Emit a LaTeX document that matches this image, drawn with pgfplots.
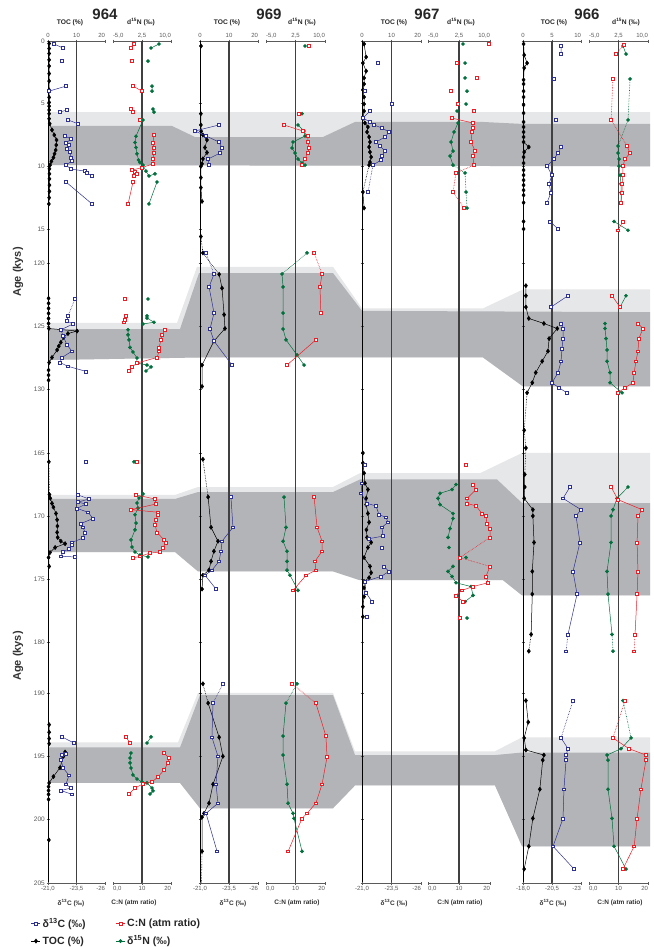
\documentclass[border=0pt]{standalone}
\usepackage{pgfplots}
\pgfplotsset{compat=1.18}
\usepackage{fontspec}
\setmainfont{Liberation Sans}
\definecolor{cblue}{HTML}{2E3192}
\definecolor{cred}{HTML}{EE1C25}
\definecolor{cgreen}{HTML}{00703C}
\definecolor{lgray}{HTML}{E6E7E8}
\definecolor{dgray}{HTML}{B3B4B7}
\definecolor{tgray}{HTML}{5A5A5A}
\pgfplotsset{
  table/x index=1, table/y index=0,
  agey/.style={
    y coord trafo/.code={\pgfmathparse{ifthenelse(##1<60,41+12.533*##1,ifthenelse(##1<150,263+12.6*(##1-120),ifthenelse(##1<180,453+12.6*(##1-165),ifthenelse(##1<190,642+5.1*(##1-180),693+12.67*(##1-190)))))}},
    ymin=0, ymax=205, y dir=reverse, scale only axis, height=842pt,
    anchor=north west, clip=false, empty line=jump},
  pan/.style={agey,
    axis line style={draw=tgray, line width=1pt},
    tick style={draw=tgray, line width=0.6pt},
    major tick length=3pt, tick align=center,
    ticklabel style={font=\fontsize{6}{7}\selectfont, text=tgray, inner sep=1.5pt}},
  topL/.style={pan, axis x line*=top, axis y line*=left, xmin=0, xmax=20,
    xtick={0,10,20}, xticklabels={0,10,{\makebox[0pt][r]{20}}},
    ytick={0,5,10,15,120,125,130,165,170,175,180,190,195,200,205}, yticklabels={},
    y axis line style={draw=black, line width=0.6pt}},
  botL/.style={pan, axis x line*=bottom, axis y line=none, xmin=-26, xmax=-21, x dir=reverse,
    xtick={-26,-23.5,-21}, xticklabels={{\makebox[0pt][r]{-26}},{-23,5},{-21,0}}},
  topR/.style={pan, axis x line*=top, axis y line=none, xmin=-5, xmax=10,
    xtick={-5,2.5,10}, xticklabels={{\makebox[0pt][l]{-5,0}},{2,5},{\makebox[0pt][r]{10,0}}}},
  botR/.style={pan, axis x line*=bottom, axis y line=none, xmin=0, xmax=20,
    xtick={0,10,20}, xticklabels={{\makebox[0pt][l]{0,0}},{10},{\makebox[0pt][r]{20}}}},
  tocp/.style={black, line width=0.5pt, mark=diamond*, mark size=2.1pt, mark options={solid}},
  d13p/.style={cblue, line width=0.5pt, mark=square*, mark size=1.4pt, mark options={solid, fill=white}},
  cnp/.style={cred, line width=0.5pt, mark=square*, mark size=1.4pt, mark options={solid, fill=white}},
  d15p/.style={cgreen, line width=0.5pt, mark=*, mark size=1.6pt, mark options={solid}},
  dotl/.style={densely dotted, line width=0.6pt},
}
\begin{document}
\begin{tikzpicture}
\useasboundingbox (0,0) rectangle (653pt,-947pt);

% ---------------- bands ----------------
\begin{axis}[agey, at={(0pt,-41pt)}, width=653pt, xmin=0, xmax=653, hide axis]
\addplot[fill=lgray, draw=none] coordinates {(48,5.67) (650,5.67) (650,10.0) (48,9.9)} -- cycle;
\addplot[fill=dgray, draw=none] coordinates {(48,6.78) (172,6.78) (195,7.66) (323,7.66) (355,6.46) (483,6.46) (523,6.62) (650,6.62) (650,10.0) (48,9.9)} -- cycle;
\addplot[fill=lgray, draw=none] coordinates {(48,124.76) (177,124.76) (197,120.3) (333,120.3) (362,123.6) (483,123.6) (523,122.1) (650,122.1) (650,129.8) (523,129.8) (483,127.5) (200,127.5) (48,127.7)} -- cycle;
\addplot[fill=dgray, draw=none] coordinates {(48,125.24) (180,125.24) (199,120.8) (333,120.8) (362,123.8) (650,123.9) (650,129.8) (523,129.8) (483,127.5) (200,127.5) (48,127.7)} -- cycle;
\addplot[fill=lgray, draw=none] coordinates {(48,168.33) (175,168.33) (198,167.7) (333,167.7) (360,166.6) (480,166.6) (522,165.0) (650,165.0) (650,176.3) (522,176.3) (503,175.1) (360,175.1) (333,174.4) (198,174.4) (175,172.86) (48,172.86)} -- cycle;
\addplot[fill=dgray, draw=none] coordinates {(48,168.65) (175,168.65) (198,168.1) (333,168.1) (360,167.1) (497,167.1) (522,168.97) (650,168.97) (650,176.3) (522,176.3) (503,175.1) (360,175.1) (333,174.4) (198,174.4) (175,172.86) (48,172.86)} -- cycle;
\addplot[fill=lgray, draw=none] coordinates {(48,193.9) (178,193.9) (198,190.0) (333,190.0) (355,194.6) (495,194.6) (522,193.5) (650,193.5) (650,202.1) (522,202.1) (495,197.3) (355,197.3) (333,199.1) (200,199.1) (180,197.1) (48,197.1)} -- cycle;
\addplot[fill=dgray, draw=none] coordinates {(48,194.3) (180,194.3) (200,190.16) (333,190.16) (355,194.9) (495,194.9) (522,194.7) (650,194.7) (650,202.1) (522,202.1) (495,197.3) (355,197.3) (333,199.1) (200,199.1) (180,197.1) (48,197.1)} -- cycle;
\end{axis}

% ================= 964 =================
\begin{axis}[topL, at={(48pt,-41pt)}, width=57pt,
  yticklabels={0,5,10,15,120,125,130,165,170,175,180,190,195,200,205},
  yticklabel style={font=\fontsize{6.5}{7}\selectfont, text=tgray}]
\draw[black!75, line width=1.1pt] (rel axis cs:0.5,0) -- (rel axis cs:0.5,1);
\draw[black, line width=0.6pt] (rel axis cs:0,1) -- ++(0pt,-18pt);
\addplot[tocp] table {
0.2 0.4
0.6 0.4
1.0 0.4
1.5 0.4
2.0 0.4
2.6 0.4
3.2 0.4
3.9 0.4
4.5 0.4
4.9 0.4
5.2 0.4
5.5 0.4
5.8 0.4
6.2 0.4
6.6 0.6
7.1 1.4
7.5 2.2
7.9 3.0
8.3 2.9
8.7 2.7
9.0 2.3
9.3 1.9
9.6 1.2
9.9 0.7
10.2 0.5
10.6 0.5
11.0 0.5
11.5 0.5
12.0 0.5
12.5 0.4
13.0 0.3

122.8 0.2
123.2 0.2
123.6 0.2
124.0 0.2
124.4 0.2
124.8 0.2
125.2 0.3
125.4 10.2
125.6 7.0
125.9 5.5
126.3 4.5
126.6 3.8
126.9 3.2
127.5 1.4
127.9 0.4
128.5 0.2
128.9 0.2
129.3 0.2

165.7 0.3

168.3 0.5
168.6 0.8
169.0 1.4
169.3 1.9
169.8 2.8
170.3 3.2
170.8 3.3
171.3 3.2
171.7 3.4
172.0 4.5
172.2 6.0
172.5 2.5
172.9 0.7
173.3 0.2
174.0 0.4

192.5 0.4
193.1 0.4
193.6 0.4
194.0 0.4

194.66 6.0
195.0 5.4
195.9 4.2
196.6 1.9
197.1 0.4
197.4 0.2
197.7 0.2
198.0 0.2
198.4 0.2

201.6 0.3
};
\addplot[black, dotl] table {
165.7 0.3
168.3 0.5
};
\end{axis}
\begin{axis}[botL, at={(48pt,-41pt)}, width=57pt]
\addplot[d13p] table {
0.24 -21.53
0.56 -22.32

1.6 -22.23

3.6 -22.58
4.0 -21.09

5.5 -22.67
5.67 -22.05

6.3 -22.75
6.6 -23.63

7.58 -22.49
7.82 -23.02
8.14 -22.58
8.30 -22.84
8.62 -22.67
8.86 -22.93
9.34 -23.02
9.58 -23.10
9.90 -22.58
10.22 -23.02
10.38 -24.25
10.53 -24.42
10.77 -24.86

11.25 -22.58
13.0 -24.86

122.86 -23.37

124.2 -22.75
124.6 -22.67
124.84 -23.19
125.3 -22.14
125.8 -22.32
126.5 -22.67
127.0 -23.10
127.5 -22.23
127.9 -22.05
128.2 -22.75
128.6 -24.33

165.7 -24.33

168.33 -23.63
168.65 -24.60
168.9 -23.63
169.05 -24.33
169.4 -23.54
169.7 -24.51
170.2 -24.95
170.6 -23.89
170.9 -24.07
171.3 -24.25
171.75 -24.07
172.1 -23.10
172.3 -23.10
172.6 -22.84
172.86 -22.32
173.2 -22.14
173.25 -23.37

193.47 -22.23
193.95 -23.28

194.8 -22.58
194.9 -22.23
195.3 -22.14
195.9 -22.32
196.5 -22.84
197.2 -22.58
197.5 -23.02
197.7 -22.14
198.0 -23.10
};
\addplot[cblue, dotl] table {
122.86 -23.37
124.2 -22.75
};
\end{axis}
\begin{axis}[topR, at={(113pt,-41pt)}, width=58pt]
\draw[black!75, line width=1.1pt] (rel axis cs:0.5,0) -- (rel axis cs:0.5,1);
\addplot[d15p] table {
0.24 6.9
0.56 4.83

1.6 4.05

3.6 5.09
4.0 5.09

5.43 5.34
5.67 5.6

6.3 2.76
7.6 0.95
8.1 0.69
8.5 0.95
9.0 1.2
9.5 1.6
9.7 1.98
9.9 2.76
10.38 3.53
10.77 4.3
10.6 5.86

11.25 6.38
13.0 4.3

122.86 4.05

124.2 3.79
124.37 3.79
124.7 5.6
124.84 2.76

125.3 -1.12
125.7 -1.12
126.1 -0.86
126.7 -0.6
127.06 0.17
127.54 1.2
127.94 1.2
128.1 3.79
128.25 4.83
128.57 3.53

165.7 0.43

168.25 2.76
168.57 1.72
168.97 1.2
169.37 1.47
169.9 0.69
170.56 0.95
171.1 0.69
171.9 -0.35
172.46 -0.09
172.86 0.69
173.1 1.98
173.25 4.05

193.47 4.83
193.95 3.79

194.74 -0.35
195.13 -0.6
195.52 -0.6
195.92 -0.35
196.47 0.17
196.79 1.2
197.02 2.5
197.1 3.79
197.5 5.09
197.73 5.34
197.97 4.57
};
\end{axis}
\begin{axis}[botR, at={(113pt,-41pt)}, width=58pt]
\addplot[cnp] table {
0.24 7.24
0.56 6.21

1.6 6.55

3.6 6.9
4.0 10.0

5.43 6.2
5.67 6.9

6.3 9.3

7.5 14.1
8.1 13.8
8.5 14.1
8.9 14.1
9.4 13.8
9.8 13.8
10.1 10.0
10.3 6.55
10.45 7.6
10.6 8.3
10.77 7.2

11.25 6.9
13.0 5.2

122.86 4.14

124.2 4.48
124.5 4.14
124.7 3.8

125.3 17.9
125.7 16.9
126.1 16.55
126.7 15.9
127.0 15.9
127.5 15.2
127.94 8.3
128.25 6.55
128.57 5.5

165.7 8.3

168.33 7.93
168.65 14.48
169.05 14.83
169.5 6.2
169.7 15.5
169.9 15.5
170.3 14.83
170.7 14.48
171.3 15.17
171.9 17.6
172.1 18.3
172.5 17.2
172.86 16.2
172.94 12.8
173.2 9.3
173.33 6.9

193.47 4.48
193.95 5.86

194.74 17.6
195.13 19.3
195.52 19.0
196.08 17.6
196.63 15.5
197.02 13.45
197.18 10.3
197.5 7.6
197.97 5.5
};
\end{axis}

% ================= 969 =================
\begin{axis}[topL, at={(200pt,-41pt)}, width=58pt]
\draw[black!75, line width=1.1pt] (rel axis cs:0.5,0) -- (rel axis cs:0.5,1);
\addplot[tocp] table {
0.4 0.34

5.8 0.3
6.7 0.3
7.2 0.4
7.5 1.0
7.9 2.4
8.5 1.7
8.9 2.4
9.4 1.0
9.8 0.7
10.0 0.3
10.9 0.3
11.7 0.3
12.8 0.7

117.9 0.3

119.2 1.0

120.9 6.6
122.0 7.6
124.1 8.3
125.2 8.6
126.2 4.8
128.1 0.7
129.8 0.7

165.5 1.0

168.5 2.8
170.9 3.8
172.0 6.2
172.8 4.8
173.6 3.8
174.3 3.1
174.7 1.0
175.8 0.7

188.2 1.0

190.8 2.8
193.5 6.6
195.0 7.9
197.2 4.5
198.7 3.1
199.5 1.4
199.8 0.7
202.5 0.7
};
\addplot[black, dotl] table {
117.9 0.3
119.2 1.0
120.9 6.6

165.5 1.0
168.5 2.8

188.2 1.0
190.8 2.8

202.5 0.7
205 0.5
};
\end{axis}
\begin{axis}[botL, at={(200pt,-41pt)}, width=58pt]
\addplot[d13p] table {
6.7 -22.64
7.18 -20.57
7.58 -21.52
8.06 -22.64
8.54 -22.90
8.94 -22.72
9.42 -21.69
9.9 -21.78

119.2 -21.52

120.87 -22.21
121.9 -21.78
123.97 -22.21
125.24 -21.86
126.2 -22.21
128.1 -23.76

168.5 -23.67
170.9 -23.84
172.0 -22.90
172.8 -22.81
173.6 -22.64
174.3 -22.03
174.7 -21.43
175.8 -22.38

188.2 -22.98

190.8 -22.12
193.5 -22.03
195.0 -22.55
197.2 -22.38
198.7 -22.55
199.5 -21.52
202.5 -22.47
};
\addplot[cblue, dotl] table {
119.2 -21.52
120.87 -22.21

188.2 -22.98
190.8 -22.12
};
\end{axis}
\begin{axis}[topR, at={(266pt,-41pt)}, width=59pt]
\draw[black!75, line width=1.1pt] (rel axis cs:0.5,0) -- (rel axis cs:0.5,1);
\addplot[d15p] table {
0.4 4.92

5.8 4.16

6.7 3.14
7.18 4.67
7.58 4.92
8.06 1.87
8.54 1.62
8.94 2.38
9.42 3.14
9.74 4.16
9.9 4.92

119.2 5.43

120.87 -0.93
121.9 -0.67
123.97 -0.67
125.24 -0.67
126.1 0.09
127.3 2.89
128.1 4.67

168.5 -0.42
170.9 0.09
172.0 -0.67
172.8 0.34
173.6 0.34
174.3 0.34
174.7 1.1
175.9 3.14

188.2 2.89

190.8 0.09
193.4 -0.67
194.9 -0.67
197.2 0.34
198.7 0.6
199.5 1.87
199.9 2.12
202.5 4.16
};
\addplot[cgreen, dotl] table {
119.2 5.43
120.87 -0.93

188.2 2.89
190.8 0.09
};
\end{axis}
\begin{axis}[botR, at={(266pt,-41pt)}, width=59pt]
\addplot[cnp] table {
0.4 14.6

5.8 11.2

6.7 6.1
7.18 12.5
7.58 14.2
8.06 14.2
8.54 14.6
8.94 14.2
9.42 13.2
9.9 12.2

119.2 16.3

120.87 19.0
121.9 18.3
123.97 18.6

126.1 16.9
128.1 7.1

168.5 16.3
170.9 17.3
172.0 19.0
172.8 19.0
173.6 16.6
174.3 16.9
174.7 13.6
175.9 9.2

188.2 8.8

190.8 16.9
193.4 20.3
195.05 20.7
197.2 19.0
198.7 16.9
199.5 13.9
199.9 12.2
202.5 7.5
};
\addplot[cred, dotl] table {
119.2 16.3
120.87 19.0

188.2 8.8
190.8 16.9
};
\end{axis}

% ================= 967 =================
\begin{axis}[topL, at={(362pt,-41pt)}, width=59pt]
\draw[black!75, line width=1.1pt] (rel axis cs:0.5,0) -- (rel axis cs:0.5,1);
\addplot[tocp] table {
0.24 0.7
1.28 1.4
1.76 0.3
2.4 1.4
2.95 0.7
3.43 0.7
3.9 0.3
4.47 0.7
5.03 0.7
5.59 0.7
6.15 0.3
6.54 1.0
6.86 2.0
7.26 1.7
7.66 2.4
8.06 2.7
8.46 2.4
8.86 2.7
9.26 3.1
9.66 2.7
9.9 2.4

12.05 0.3
13.33 0.7

165.0 0.3
165.8 0.3
166.6 0.7
167.4 1.0
167.9 2.0
168.6 1.4
169.1 1.4
169.8 2.0
170.5 2.4
171.1 1.5
171.7 1.7
172.1 3.1
172.5 2.0
173.3 0.7
174.0 2.7
174.5 3.1
174.9 2.4
175.2 0.7
175.7 0.7
176.4 0.7
177.2 0.3
178.0 0.3
};
\addplot[black, dotl] table {
9.9 2.4
12.05 0.3
};
\end{axis}
\begin{axis}[botL, at={(362pt,-41pt)}, width=59pt]
\addplot[d13p] table {
1.76 -22.36

4.0 -21.25

5.03 -23.54

5.59 -21.68
6.15 -21.08
6.46 -21.68
6.7 -22.02
6.94 -22.69
7.26 -23.29
7.66 -22.95
8.06 -22.19
8.38 -22.53
8.78 -22.95
9.18 -22.69
9.5 -22.61
9.9 -21.93

12.05 -21.51

165.95 -21.25

167.4 -21.0
168.2 -20.92
169.0 -21.42
169.2 -22.19
169.9 -22.44
170.1 -23.03
170.5 -23.2
170.9 -22.69
171.6 -22.78
171.8 -21.59

172.5 -22.69

174.0 -22.86
174.4 -23.29
174.8 -22.61
175.2 -21.25
176.1 -21.34
176.8 -21.85

178.0 -21.42
};
\addplot[cblue, dotl] table {
9.9 -21.93
12.05 -21.51
};
\end{axis}
\begin{axis}[topR, at={(428pt,-41pt)}, width=62pt]
\draw[black!75, line width=1.1pt] (rel axis cs:0.5,0) -- (rel axis cs:0.5,1);
\addplot[d15p] table {
0.24 3.47

1.76 3.96

2.95 3.96

4.0 4.44

5.03 4.2

5.59 2.02

6.54 2.26
7.26 1.3
8.06 0.57
8.78 1.05
9.18 0.33
9.9 1.05

10.53 3.96

12.05 4.2

13.33 4.44

165.95 4.2

167.5 1.78
167.9 0.81
168.2 -2.09
168.6 -2.58
169.1 -2.09
169.8 1.05
170.2 1.05
171.0 0.33
171.7 -0.16

172.5 0.08

173.3 4.2

174.0 1.05
174.4 -0.16
174.8 0.81
175.3 1.78
175.6 5.41
176.3 5.9
176.8 3.96

178.1 4.44
};
\addplot[cgreen, dotl] table {
9.9 1.05
10.53 3.96
12.05 4.2
13.33 4.44
};
\end{axis}
\begin{axis}[botR, at={(428pt,-41pt)}, width=62pt]
\addplot[cnp] table {
0.24 19.7

1.76 9.35

2.95 15.8

4.0 7.4

5.03 9.7

5.59 14.8

6.15 7.7
6.54 14.5
6.94 14.5
7.26 14.2
8.06 13.9
8.78 15.2
9.18 14.5
9.9 14.8

10.53 9.0

12.05 8.1

13.33 11.6

165.95 12.3

167.5 14.5
167.9 15.5
168.6 12.6
169.0 12.6
169.2 15.5
169.8 17.4
170.0 18.7
170.6 19.0
171.0 20.0
171.7 20.0

173.3 10.3

174.0 20.0
174.8 18.7
175.3 19.4
175.6 14.5
175.9 11.0
176.3 9.0
176.8 11.3

178.1 10.3
};
\addplot[cred, dotl] table {
9.9 14.8
10.53 9.0
12.05 8.1
13.33 11.6

171.7 20.0
173.3 10.3
174.0 20.0
};
\end{axis}

% ================= 966 =================
\begin{axis}[topL, at={(523pt,-41pt)}, width=58pt, xmax=10, xtick={0,5,10}, xticklabels={0,5,{\makebox[0pt][r]{10}}}]
\draw[black!75, line width=1.1pt] (rel axis cs:0.5,0) -- (rel axis cs:0.5,1);
\addplot[tocp] table {
0.24 0.1
1.12 0.2
1.76 0.7
2.15 0.2
3.1 0.1
3.43 0.1
4.0 0.1
4.47 0.1
5.1 0.1
5.75 0.1
6.46 0.1
6.86 0.1
7.26 0.1
7.66 0.1
8.06 0.1
8.46 1.0
8.86 0.2
9.26 0.1
9.74 0.1
10.3 0.1
10.7 0.1
11.1 0.1
11.5 0.1
11.9 0.1
12.3 0.1
12.9 0.1

14.4 0.1
15.0 0.1

121.8 0.5
122.6 0.5
123.5 0.5
124.4 1.0
124.8 3.6
125.2 5.9
126.0 4.5
127.0 4.3
127.8 3.3
128.7 2.2
129.5 1.6
130.3 0.7

163.2 0.2

164.6 0.5

166.7 0.3
167.7 0.3
168.6 0.2
169.5 1.7
170.0 1.7
172.1 1.9
174.4 1.6
176.2 1.6
179.4 1.4

181.8 1.0

190.6 0.5
192.3 0.9
193.55 0.2
194.5 0.5
194.9 3.6
195.3 3.4
197.6 2.9
199.9 1.7
202.1 1.0
203.9 0.2
};
\addplot[black, dotl] table {
130.3 0.7
163.2 0.2
164.6 0.5
166.7 0.3

179.4 1.4
181.8 1.0
};
\end{axis}
\begin{axis}[botL, at={(523pt,-41pt)}, width=58pt, xmin=-23, xmax=-18, xtick={-23,-20.5,-18}, xticklabels={{\makebox[0pt][r]{-23}},{-20,5},{-18,0}}]
\addplot[d13p] table {
0.4 -21.28
1.04 -21.28

3.03 -20.67

6.3 -20.84

8.46 -21.28
8.94 -21.02
9.42 -20.67
9.98 -20.07
10.7 -20.5
11.4 -20.24
12.1 -20.41
12.9 -20.07

14.4 -20.33
15.0 -21.02

122.6 -21.88
123.5 -20.41

124.8 -21.28
125.2 -21.45
126.0 -21.45
126.8 -21.36
127.8 -21.28
128.7 -21.02
129.5 -20.5
129.9 -21.1
130.3 -21.79

167.7 -22.05
168.6 -21.45
169.5 -23.0
170.0 -22.57
172.1 -22.91
174.4 -22.31
176.2 -22.66
179.4 -21.88

181.8 -21.71

190.6 -22.31

193.55 -21.28
194.4 -21.88
194.9 -21.71
195.3 -21.71
197.6 -21.53
199.9 -21.45
202.1 -20.59
203.9 -22.4
};
\addplot[cblue, dotl] table {
179.4 -21.88
181.8 -21.71

190.6 -22.31
193.55 -21.28
};
\end{axis}
\begin{axis}[topR, at={(589pt,-41pt)}, width=59pt]
\draw[black!75, line width=1.1pt] (rel axis cs:0.5,0) -- (rel axis cs:0.5,1);
\addplot[d15p] table {
0.4 3.65
1.04 4.41

3.03 5.43

6.3 4.92

8.38 2.38
8.94 2.38
9.42 2.63
9.98 2.63
10.7 2.89
11.4 3.14
12.1 3.14
12.9 3.14

14.4 1.36
15.1 4.92

122.6 4.41
123.5 2.89

124.8 -0.93
125.2 -0.93
126.0 -0.67
126.9 -0.42
127.8 -0.42
128.7 0.34
129.5 0.34
130.3 3.4

167.7 4.92
168.6 2.12
169.5 1.1
170.0 0.6
172.1 0.6
174.4 -0.42
176.2 -0.17
179.4 0.85

181.8 1.1

190.6 3.65

193.55 5.69
194.4 3.14
194.9 -0.42
195.3 -0.17
197.6 -0.17
199.9 0.85
202.1 1.36
203.9 4.41
};
\addplot[cgreen, dotl] table {
3.03 5.43
6.3 4.92
8.38 2.38

179.4 0.85
181.8 1.1

190.6 3.65
193.55 5.69
};
\end{axis}
\begin{axis}[botR, at={(589pt,-41pt)}, width=59pt]
\addplot[cnp] table {
0.32 11.9

1.04 9.15

3.03 8.1

6.3 7.5

8.38 12.9
8.94 13.9
9.42 12.2
9.98 11.5
10.7 11.5
11.4 11.2
12.1 11.2
12.9 10.8

14.4 11.5
15.1 9.8

122.6 7.8
123.5 10.5

124.8 16.6
125.2 18.3
126.0 16.9
127.0 16.6
127.8 15.9
128.7 15.3
129.5 14.9
129.9 12.2
130.3 9.8

167.7 7.5
168.7 9.8
169.5 18.0
170.0 16.6
172.1 16.3
174.4 16.6
176.2 16.3
179.4 15.6

181.8 15.3

190.6 12.2

193.55 8.1
194.4 13.6
194.9 19.3
195.3 19.3
197.6 17.6
199.9 16.3
202.1 15.3
203.9 11.5
};
\addplot[cred, dotl] table {
0.32 11.9
1.04 9.15

3.03 8.1
6.3 7.5
8.38 12.9

179.4 15.6
181.8 15.3

190.6 12.2
193.55 8.1
};
\end{axis}

% ---------------- legend ----------------
\begin{axis}[at={(31pt,-916pt)}, anchor=north west, scale only axis, width=10pt, height=10pt,
  hide axis, xmin=0, xmax=1, ymin=0, ymax=1, legend columns=2,
  legend image code/.code={\draw[mark repeat=2,mark phase=2,#1] plot coordinates {(0pt,0pt) (4.5pt,0pt) (9pt,0pt)};},
  legend style={at={(0,1)}, anchor=north west, draw=none, fill=none, inner sep=0pt,
    font=\bfseries\fontsize{10.5}{12}\selectfont, text=black!85, row sep=3pt,
    /tikz/every even column/.append style={column sep=28pt}},
  legend cell align=left]
\addlegendimage{d13p}\addlegendentry{δ\textsuperscript{13}C (‰)}
\addlegendimage{cnp}\addlegendentry{C:N (atm ratio)}
\addlegendimage{tocp}\addlegendentry{TOC (\%)}
\addlegendimage{d15p}\addlegendentry{δ\textsuperscript{15}N (‰)}
\end{axis}

% ---------------- texts ----------------
\tikzset{core/.style={font=\bfseries\fontsize{15}{15}\selectfont, text=black!85},
  hd/.style={font=\bfseries\fontsize{6.7}{7}\selectfont, text=black!85},
  ft/.style={font=\bfseries\fontsize{6.5}{7}\selectfont, text=black!80}}
\node[core] at (105pt,-14pt) {964};
\node[core] at (269pt,-14pt) {969};
\node[core] at (427pt,-14pt) {967};
\node[core] at (587pt,-14pt) {966};
\node[hd] at (70pt,-23pt) {TOC (\%)};
\node[hd] at (227pt,-23pt) {TOC (\%)};
\node[hd] at (394pt,-23pt) {TOC (\%)};
\node[hd] at (554pt,-23pt) {TOC (\%)};
\node[hd] at (141pt,-22pt) {d\textsuperscript{15}N (‰)};
\node[hd] at (302pt,-22pt) {d\textsuperscript{15}N (‰)};
\node[hd] at (461pt,-22pt) {d\textsuperscript{15}N (‰)};
\node[hd] at (626pt,-22pt) {d\textsuperscript{15}N (‰)};
\node[ft] at (71pt,-903pt) {δ\textsuperscript{13}C (‰)};
\node[ft] at (233pt,-903pt) {δ\textsuperscript{13}C (‰)};
\node[ft] at (394pt,-903pt) {δ\textsuperscript{13}C (‰)};
\node[ft] at (553pt,-903pt) {δ\textsuperscript{13}C (‰)};
\node[ft] at (134pt,-903pt) {C:N (atm ratio)};
\node[ft] at (297pt,-903pt) {C:N (atm ratio)};
\node[ft] at (460pt,-903pt) {C:N (atm ratio)};
\node[ft] at (620pt,-903pt) {C:N (atm ratio)};
\node[rotate=90, font=\bfseries\fontsize{11}{11}\selectfont, text=black!80] at (18pt,-272pt) {Age (kys)};
\node[rotate=90, font=\bfseries\fontsize{11}{11}\selectfont, text=black!80] at (18pt,-656pt) {Age (kys)};
\end{tikzpicture}
\end{document}
